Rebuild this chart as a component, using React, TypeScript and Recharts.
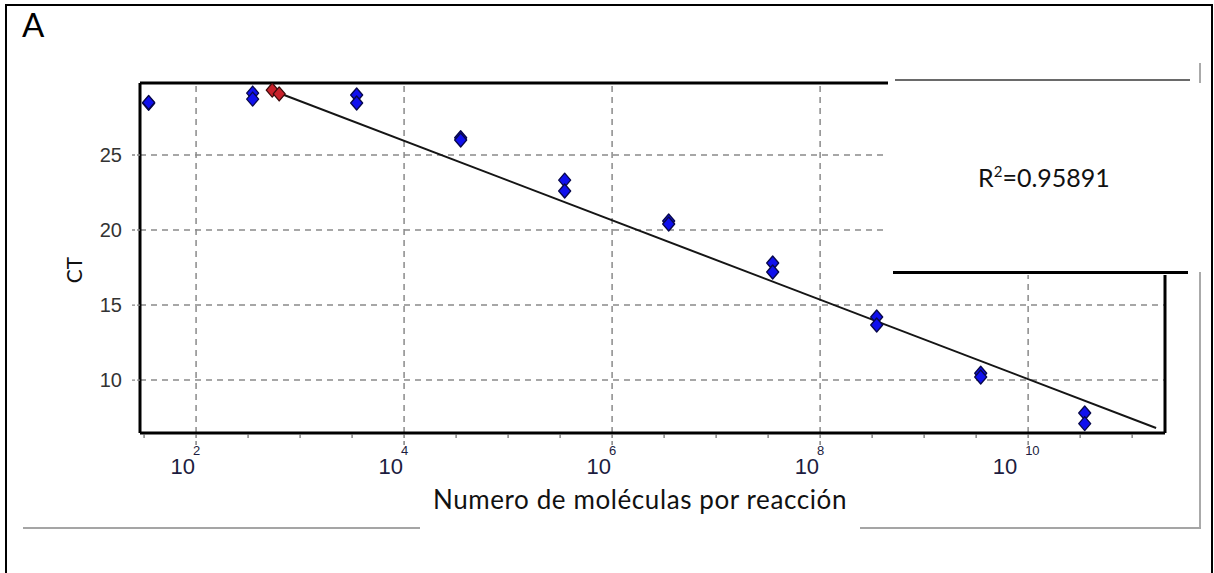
import { ScatterChart, Scatter, XAxis, YAxis, ReferenceLine } from 'recharts';

// standard curve: molecules per reaction vs CT, two replicates per dilution
const molecules = [3.5e1, 3.5e2, 3.5e3, 3.5e4, 3.5e5, 3.5e6, 3.5e7, 3.5e8, 3.5e9, 3.5e10];
const ctRep1 = [28.45, 29.13, 29.0, 26.15, 23.33, 20.6, 17.8, 14.2, 10.45, 7.8];
const ctRep2 = [28.5, 28.73, 28.47, 26.0, 22.6, 20.4, 17.2, 13.67, 10.2, 7.1];

// excluded points (red)
const outlierMolecules = [5.4e2, 6.3e2];
const outlierCt = [29.33, 29.07];

// regression line ends
const fitMolecules = [5.9e2, 1.7e11];
const fitCt = [29.2, 6.8];

const xTickExponents = [1.5, 2, 2.5, 3, 3.5, 4, 4.5, 5, 5.5, 6, 6.5, 7, 7.5, 8, 8.5, 9, 9.5, 10, 10.5, 11];
const xLabelExponents = [2, 4, 6, 8, 10];
const yTicks = [10, 15, 20, 25];

const X_DOMAIN: [number, number] = [28.9, 2.07e11];
const Y_DOMAIN: [number, number] = [6.47, 29.8];

const pointData = molecules.flatMap((m, i) => [
  { x: m, y: ctRep1[i] },
  { x: m, y: ctRep2[i] },
]);
const outlierData = outlierMolecules.map((m, i) => ({ x: m, y: outlierCt[i] }));
const fitData = fitMolecules.map((m, i) => ({ x: m, y: fitCt[i] }));
const xTicks = xTickExponents.map((e) => Math.pow(10, e));

const GRID = { stroke: '#8a8a8a', strokeWidth: 1.5, strokeDasharray: '6 5' };

const makeDiamond = (fill: string, stroke: string) => (props: any) => {
  const { cx, cy } = props;
  if (cx == null || cy == null) return <g />;
  return (
    <polygon
      points={`${cx},${cy - 7} ${cx + 6},${cy} ${cx},${cy + 7} ${cx - 6},${cy}`}
      fill={fill}
      stroke={stroke}
      strokeWidth={1.3}
      strokeLinejoin="round"
    />
  );
};

const XTick = (props: any) => {
  const { x, y, payload } = props;
  const exp = Math.round(Math.log10(payload.value) * 2) / 2;
  const major = xLabelExponents.includes(exp);
  const expStr = String(exp);
  return (
    <g>
      <line
        x1={x}
        x2={x}
        y1={y + 1}
        y2={y + (major ? 14 : 5)}
        stroke="#666"
        strokeWidth={1.2}
        strokeDasharray={major ? '4 3' : undefined}
      />
      {major && (
        <text fontFamily="Liberation Sans, Arial, sans-serif" fill="#1c1c40">
          <tspan x={x - 1 - 10 * (expStr.length - 1)} y={y + 41} fontSize={22} textAnchor="end">10</tspan>
          <tspan x={x - 3} y={y + 22} fontSize={13} textAnchor="start">{expStr}</tspan>
        </text>
      )}
    </g>
  );
};

export default function App() {
  return (
    <div style={{ position: 'relative', width: 1214, height: 573, overflow: 'hidden', background: '#fff' }}>
      <style>{'body{margin:0}'}</style>
      <ScatterChart width={1214} height={573} margin={{ top: 83, right: 49, left: 80, bottom: 100 }}>
        <XAxis
          dataKey="x"
          type="number"
          scale="log"
          domain={X_DOMAIN}
          allowDataOverflow
          ticks={xTicks}
          interval={0}
          tick={<XTick />}
          tickLine={false}
          tickSize={0}
          tickMargin={0}
          height={40}
          axisLine={{ stroke: '#000', strokeWidth: 3 }}
          label={{
            content: () => (
              <text
                x={640}
                y={509}
                textAnchor="middle"
                fontFamily="Lato, sans-serif"
                fontSize={26}
                letterSpacing={0.6}
                fill="#111"
              >
                Numero de moléculas por reacción
              </text>
            ),
          }}
        />
        <YAxis
          dataKey="y"
          type="number"
          domain={Y_DOMAIN}
          allowDataOverflow
          ticks={yTicks}
          interval={0}
          width={60}
          tickSize={8}
          tickMargin={10}
          tickLine={{ stroke: '#888', strokeDasharray: '3 2', strokeWidth: 1.3 }}
          tick={{ fontSize: 20, fill: '#333', fontFamily: 'Liberation Sans, Arial, sans-serif' }}
          axisLine={{ stroke: '#000', strokeWidth: 3 }}
          label={{
            content: () => (
              <text
                x={82}
                y={270}
                transform="rotate(-90 82 270)"
                textAnchor="middle"
                fontFamily="Lato, sans-serif"
                fontSize={21}
                fill="#111"
              >
                CT
              </text>
            ),
          }}
        />

        {yTicks.map((v) => (
          <ReferenceLine key={'gy' + v} y={v} {...GRID} />
        ))}
        {xLabelExponents.map((e) => (
          <ReferenceLine key={'gx' + e} x={Math.pow(10, e)} {...GRID} />
        ))}
        <ReferenceLine y={Y_DOMAIN[1]} stroke="#000" strokeWidth={3} />
        <ReferenceLine x={X_DOMAIN[1]} stroke="#000" strokeWidth={3} />

        <Scatter
          data={fitData}
          line={{ stroke: '#151515', strokeWidth: 2 }}
          shape={() => <g />}
          isAnimationActive={false}
        />
        <Scatter data={outlierData} shape={makeDiamond('#c8202a', '#3a0a0a')} isAnimationActive={false} />
        <Scatter data={pointData} shape={makeDiamond('#1010ee', '#08084a')} isAnimationActive={false} />
      </ScatterChart>

      <svg width={1214} height={573} style={{ position: 'absolute', left: 0, top: 0, pointerEvents: 'none' }}>
        {/* R² box laid over the top right of the plot */}
        <rect x={888} y={77} width={304} height={198} fill="#fff" />
        <line x1={895} x2={1190} y1={80} y2={80} stroke="#6a6a6a" strokeWidth={2} />
        <line x1={893} x2={1188} y1={272.5} y2={272.5} stroke="#000" strokeWidth={3} />
        <text x={978} y={187} fontFamily="Lato, sans-serif" fontSize={25} fill="#111">
          R<tspan fontSize={15} dy={-10}>2</tspan>
          <tspan dy={10}>=0.95891</tspan>
        </text>

        {/* grey frame remnants */}
        <line x1={1200} x2={1200} y1={63} y2={83} stroke="#aaa" strokeWidth={2} />
        <line x1={1200} x2={1200} y1={272} y2={529} stroke="#aaa" strokeWidth={2} />
        <line x1={23} x2={420} y1={528} y2={528} stroke="#a5a5a5" strokeWidth={2} />
        <line x1={860} x2={1201} y1={528} y2={528} stroke="#a5a5a5" strokeWidth={2} />

        {/* panel border and letter */}
        <path d="M6 580 V5 H1212 V580" fill="none" stroke="#000" strokeWidth={2} />
        <text x={22} y={37} fontFamily="Lato, sans-serif" fontSize={33} fill="#000">
          A
        </text>
      </svg>
    </div>
  );
}
